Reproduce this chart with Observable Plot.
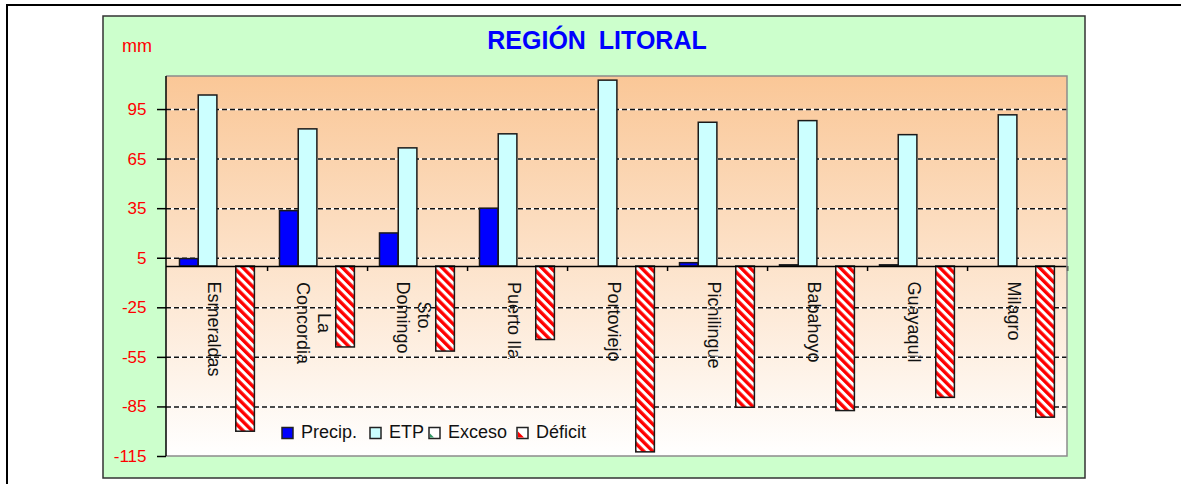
<!DOCTYPE html>
<html>
<head>
<meta charset="utf-8">
<script src="https://cdn.jsdelivr.net/npm/d3@7"></script>
<script src="https://cdn.jsdelivr.net/npm/@observablehq/plot@0.6"></script>
<style>
  html, body { margin: 0; padding: 0; background: white; }
  #chart svg { display: block; }
</style>
</head>
<body>
<div id="chart"></div>
<script>
// ---- Data ----
const categories = ["Esmeraldas", "La Concordia", "Sto. Domingo", "Puerto Ila", "Portoviejo", "Pichilingue", "Babahoyo", "Guayaquil", "Milagro"];
const categoryLabels = ["Esmeraldas", "La\nConcordia", "Sto.\nDomingo", "Puerto Ila", "Portoviejo", "Pichilingue", "Babahoyo", "Guayaquil", "Milagro"];
const precip  = [4.5, 33.5, 20, 35, 0, 2, 0.7, 0.7, 0];
const etp     = [103.5, 83, 71.5, 80, 112.5, 87, 88, 79.5, 91.5];
const exceso  = [0, 0, 0, 0, 0, 0, 0, 0, 0];
const deficit = [-100, -49, -51.5, -44.5, -112.5, -85.5, -87.5, -79.5, -91.5];
const seriesNames = ["Precip.", "ETP", "Exceso", "Déficit"];
const yTicks = [-115, -85, -55, -25, 5, 35, 65, 95];
const gridTicks = [-85, -55, -25, 5, 35, 65, 95];
const titleText = "REGIÓN LITORAL";
const unitText = "mm";

const rows = categories.map((c, i) => ({
  cat: c, label: categoryLabels[i],
  precip: precip[i], etp: etp[i], exceso: exceso[i], deficit: deficit[i]
}));

// ---- Layout ----
const W = 1181, H = 484;
const ML = 166, MR = 114, MT = 76, MB = 28;
const bw = (W - ML - MR) / categories.length;
const barStart = 12.5, barW = 18.75;
const inset = (k) => ({ insetLeft: barStart + k * barW, insetRight: bw - (barStart + (k + 1) * barW) });
const FONT = "Liberation Sans, Arial, Helvetica, sans-serif";

function background(index, scales, values, dims) {
  const {width, height, marginLeft: ml, marginRight: mr, marginTop: mt, marginBottom: mb} = dims;
  const g = d3.create("svg:g");
  const defs = g.append("defs");
  const grad = defs.append("linearGradient").attr("id", "bgGrad")
    .attr("x1", 0).attr("y1", 0).attr("x2", 0).attr("y2", 1);
  grad.append("stop").attr("offset", "0%").attr("stop-color", "#FAC797");
  grad.append("stop").attr("offset", "100%").attr("stop-color", "#FFFFFF");
  const pat = defs.append("pattern").attr("id", "hatchRed")
    .attr("patternUnits", "userSpaceOnUse").attr("width", 6.4).attr("height", 6.4)
    .attr("patternTransform", "rotate(-45)");
  pat.append("rect").attr("width", 6.4).attr("height", 6.4).attr("fill", "white");
  pat.append("rect").attr("width", 3.4).attr("height", 6.4).attr("fill", "#FF0000");
  const patG = defs.append("pattern").attr("id", "hatchGreen")
    .attr("patternUnits", "userSpaceOnUse").attr("width", 6.4).attr("height", 6.4)
    .attr("patternTransform", "rotate(-45)");
  patG.append("rect").attr("width", 6.4).attr("height", 6.4).attr("fill", "white");
  patG.append("rect").attr("width", 3.4).attr("height", 6.4).attr("fill", "#339966");
  // outer frame (top and left)
  g.append("path").attr("d", `M7,${height}V5H${width}`)
    .attr("fill", "none").attr("stroke", "black").attr("stroke-width", 2);
  // green chart panel
  g.append("rect").attr("x", 103).attr("y", 16).attr("width", 982).attr("height", 462)
    .attr("fill", "#CCFFCC").attr("stroke", "#333").attr("stroke-width", 1.5);
  // plot area
  g.append("rect").attr("x", ml).attr("y", mt)
    .attr("width", width - ml - mr).attr("height", height - mt - mb)
    .attr("fill", "url(#bgGrad)");
  return g.node();
}

function overlay(index, scales, values, dims) {
  const {width, height, marginLeft: ml, marginRight: mr, marginTop: mt, marginBottom: mb} = dims;
  const g = d3.create("svg:g").attr("text-anchor", "start");
  const x2 = width - mr, y2 = height - mb;
  // plot area border
  g.append("path").attr("d", `M${ml},${mt}H${x2}V${y2}H${ml}`)
    .attr("fill", "none").attr("stroke", "#8c8c8c").attr("stroke-width", 1.5);
  g.append("line").attr("x1", ml).attr("x2", ml).attr("y1", mt).attr("y2", y2)
    .attr("stroke", "black").attr("stroke-width", 1.5);
  // title
  g.append("text").attr("x", 597).attr("y", 49).attr("text-anchor", "middle")
    .attr("font-family", FONT).attr("font-size", 25).attr("font-weight", "bold")
    .attr("fill", "#0000FF").attr("word-spacing", 6).text(titleText);
  // unit
  g.append("text").attr("x", 122).attr("y", 52).attr("text-anchor", "start")
    .attr("font-family", FONT).attr("font-size", 18).attr("fill", "#FF0000").text(unitText);
  // legend
  const lx = [282, 370, 429, 517];
  const ly = 427.5;
  seriesNames.forEach((name, k) => {
    const sw = g.append("g");
    const fill = k === 0 ? "#0000FF" : k === 1 ? "#CCFFFF" : "white";
    sw.append("rect").attr("x", lx[k]).attr("y", ly).attr("width", 11).attr("height", 11)
      .attr("fill", fill).attr("stroke", "#222").attr("stroke-width", 1.5);
    if (k >= 2) {
      const c = k === 2 ? "#339966" : "#FF0000";
      const s = k === 2 ? 4 : 6;
      sw.append("path").attr("d", `M${lx[k] + 1},${ly + 10 - s}L${lx[k] + 1},${ly + 10}L${lx[k] + 1 + s},${ly + 10}Z`)
        .attr("fill", c);
    }
    sw.append("text").attr("x", lx[k] + 19).attr("y", ly + 10).attr("text-anchor", "start")
      .attr("font-family", FONT).attr("font-size", 18).attr("fill", "#111").text(name);
  });
  return g.node();
}

const chart = Plot.plot({
  width: W, height: H,
  marginLeft: ML, marginRight: MR, marginTop: MT, marginBottom: MB,
  style: { fontFamily: FONT, background: "white", overflow: "visible" },
  x: { domain: categories, padding: 0, axis: null },
  y: { domain: [-115, 115] },
  marks: [
    background,
    Plot.text(rows, {
      x: "cat", y: 0, text: "label", rotate: 90, textAnchor: "middle",
      lineHeight: 1.2, fontSize: 18, fill: "#111", dy: 15, dx: -3
    }),
    Plot.ruleY(gridTicks, { stroke: "white", strokeWidth: 1.5 }),
    Plot.ruleY(gridTicks, { stroke: "#111", strokeWidth: 1.5, strokeDasharray: "5,3" }),
    Plot.barY(rows, { x: "cat", y1: 0, y2: "precip", fill: "#0000FF", stroke: "#1a1a1a", strokeWidth: 1.5, ...inset(0) }),
    Plot.barY(rows, { x: "cat", y1: 0, y2: "etp", fill: "#CCFFFF", stroke: "#1a1a1a", strokeWidth: 1.5, ...inset(1) }),
    Plot.barY(rows, { x: "cat", y1: 0, y2: "exceso", fill: "url(#hatchGreen)", stroke: "#1a1a1a", strokeWidth: 1.5, ...inset(2) }),
    Plot.barY(rows, { x: "cat", y1: 0, y2: "deficit", fill: "url(#hatchRed)", stroke: "#1a1a1a", strokeWidth: 1.5, ...inset(3) }),
    Plot.ruleY([0], { stroke: "black", strokeWidth: 1.5 }),
    Plot.ruleX(categories, { x: d => d, dx: bw / 2, y1: 0, y2: 0, insetBottom: -5, stroke: "black", strokeWidth: 1.5 }),
    Plot.axisY({
      ticks: yTicks, tickSize: 9, tickPadding: 11, tickFormat: d => String(d),
      fill: "#FF0000", stroke: "black", strokeWidth: 1.5, fontSize: 17, label: null
    }),
    overlay
  ]
});

document.getElementById("chart").append(chart);

// centre each line of a rotated multi-line label on the longest line, block starting under the axis
d3.select(chart).selectAll('g[aria-label="text"] text').each(function () {
  const w = this.getBBox().width;
  const t = this.getAttribute("transform") || "";
  this.setAttribute("transform", `${t} translate(${w / 2},0)`);
});
</script>
</body>
</html>
